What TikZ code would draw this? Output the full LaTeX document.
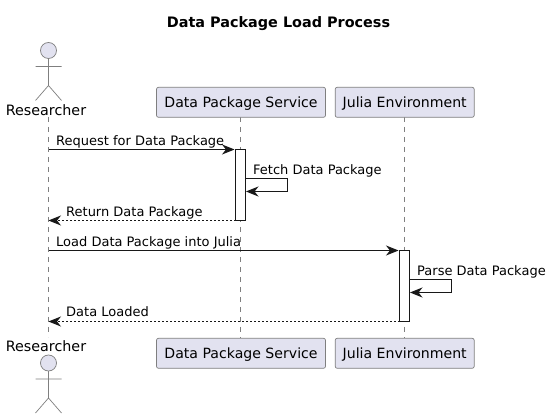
\documentclass[tikz,border=0pt]{standalone}
\usepackage{fontspec}
\setmainfont{DejaVu Sans}
\usetikzlibrary{arrows.meta}
\definecolor{partfill}{HTML}{E2E2F0}
\definecolor{partline}{HTML}{7F7F7F}
\definecolor{ink}{HTML}{181818}
\tikzset{
  x=1pt,y=-1pt,
  partbox/.style={draw=partline,fill=partfill,rounded corners=2pt,line width=.7pt,minimum height=30pt,inner sep=0pt,font=\fontsize{14.1}{16}\selectfont,text=black,anchor=center},
  lifeline/.style={draw=partline,line width=.7pt,dash pattern=on 5pt off 5pt},
  actbox/.style={draw=ink,fill=white,line width=.9pt,minimum width=10pt,inner sep=0pt,anchor=north},
  msg/.style={draw=ink,line width=.9pt,-{Stealth[length=12.5pt,width=10pt,inset=4pt,fill=ink]}},
  retmsg/.style={msg,dash pattern=on 2pt off 2pt},
  msglabel/.style={font=\fontsize{13}{15}\selectfont,text=black,inner sep=0pt,anchor=base west},
  actorlabel/.style={font=\fontsize{14.3}{16}\selectfont,text=black,inner sep=0pt,anchor=base},
  actorline/.style={draw=partline,line width=.7pt},
  actorhead/.style={draw=partline,fill=partfill,line width=.7pt,circle,minimum size=16pt,inner sep=0pt},
  pics/stick/.style={code={
    \draw[actorline] (0,8) -- (0,35) (-13,16) -- (13,16) (-13,50) -- (0,35) -- (13,50);
    \node[actorhead] at (0,0) {};
  }}
}
\begin{document}
\begin{tikzpicture}
\useasboundingbox (0,0) rectangle (551,419);
\fill[white] (0,0) rectangle (551,419);
\node[font=\fontsize{14.4}{16}\selectfont\bfseries,inner sep=0pt,anchor=base] (title) at (278.5,27.5) {Data Package Load Process};

% lifelines
\coordinate (rt) at (48.5,117);
\coordinate (rb) at (48.5,337);
\coordinate (st) at (240.5,117);
\coordinate (sb) at (240.5,338);
\coordinate (jt) at (404.5,117);
\coordinate (jb) at (404.5,338);
\draw[lifeline] (rt) -- (rb);
\draw[lifeline] (st) -- (sb);
\draw[lifeline] (jt) -- (jb);

% participants
\node[partbox,minimum width=169pt,text depth=0pt,text height=0pt] (s1) at (241,102.3) {};
\node[partbox,minimum width=139pt] (j1) at (404.7,102.3) {};
\node[partbox,minimum width=169pt] (s2) at (241,353.3) {};
\node[partbox,minimum width=139pt] (j2) at (404.7,353.3) {};
\node[partbox,draw=none,fill=none,minimum height=0pt,anchor=base] (s1t) at (241,107.5) {Data Package Service};
\node[partbox,draw=none,fill=none,minimum height=0pt,anchor=base] (j1t) at (404.7,107.5) {Julia Environment};
\node[partbox,draw=none,fill=none,minimum height=0pt,anchor=base] (s2t) at (241,358.5) {Data Package Service};
\node[partbox,draw=none,fill=none,minimum height=0pt,anchor=base] (j2t) at (404.7,358.5) {Julia Environment};

% actors
\pic at (48.5,50.5) {stick};
\node[actorlabel] (r1) at (46,115.7) {Researcher};
\node[actorlabel] (r2) at (46,351.7) {Researcher};
\pic at (48.5,363) {stick};

% activations
\node[actbox,minimum height=70.5pt] (a1) at (240.5,149.5) {};
\node[actbox,minimum height=71pt] (a2) at (404.5,250.5) {};

% messages
\coordinate (m1s) at (48.5,149.5);
\coordinate (m1e) at (234.5,149.5);
\draw[msg] (m1s) -- (m1e);
\node[msglabel] (l1) at (56,145.6) {Request for Data Package};

\coordinate (m2s) at (245.5,178.5);
\coordinate (m2c) at (287.5,191.5);
\coordinate (m2e) at (246,191.5);
\draw[msg] (m2s) -| (m2c) -- (m2e);
\node[msglabel] (l2) at (253,174.6) {Fetch Data Package};

\coordinate (m3s) at (235.5,220.5);
\coordinate (m3e) at (48.5,220.5);
\draw[retmsg] (m3s) -- (m3e);
\node[msglabel] (l3) at (66,216.6) {Return Data Package};

\coordinate (m4s) at (48.5,250.5);
\coordinate (m4e) at (398.5,250.5);
\draw[msg] (m4s) -- (m4e);
\node[msglabel] (l4) at (56,246.6) {Load Data Package into Julia};

\coordinate (m5s) at (409.5,279.5);
\coordinate (m5c) at (451.5,292.5);
\coordinate (m5e) at (410,292.5);
\draw[msg] (m5s) -| (m5c) -- (m5e);
\node[msglabel] (l5) at (417,275.6) {Parse Data Package};

\coordinate (m6s) at (399.5,321.5);
\coordinate (m6e) at (48.5,321.5);
\draw[retmsg] (m6s) -- (m6e);
\node[msglabel] (l6) at (66,316.6) {Data Loaded};
\end{tikzpicture}
\end{document}
